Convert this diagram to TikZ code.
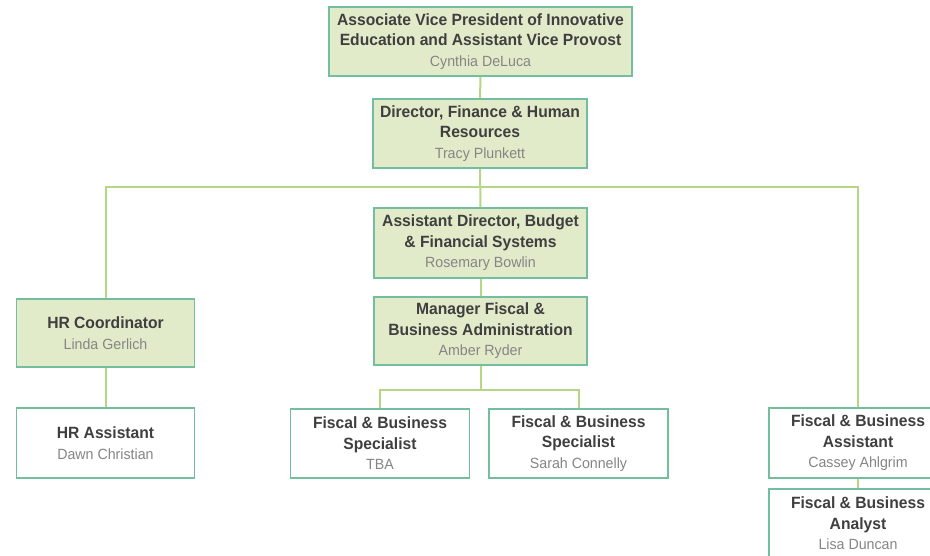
\documentclass[tikz,border=0pt]{standalone}
\usepackage{fontspec}
\setmainfont{Liberation Sans}[FakeStretch=0.96]
\definecolor{boxfill}{HTML}{E2EBC9}
\definecolor{boxline}{HTML}{72BE9E}
\definecolor{conn}{HTML}{B5D685}
\definecolor{titlecol}{HTML}{3F3F3F}
\definecolor{namecol}{HTML}{858585}
\newcommand{\ttl}[1]{{\fontsize{16.3}{20.5}\selectfont\bfseries\color{titlecol}#1}}
\newcommand{\nm}[1]{{\fontsize{14.8}{20.5}\selectfont\color{namecol}#1}}
\tikzset{
  orgbox/.style={draw=boxline, line width=1.8pt, fill=boxfill, minimum height=69pt, align=center, inner sep=0pt, font=\fontsize{16.3}{20.5}\selectfont},
  whitebox/.style={orgbox, fill=white},
  link/.style={draw=conn, line width=2pt}
}
\begin{document}
\begin{tikzpicture}[x=1pt,y=-1pt]
\useasboundingbox (0,0) rectangle (930,556);
\node[orgbox, minimum width=303pt] (avp) at (480.5,41.5) {\ttl{Associate Vice President of Innovative}\\\ttl{Education and Assistant Vice Provost}\\\nm{Cynthia DeLuca}};
\node[orgbox, minimum width=214pt] (dir) at (480,133.5) {\ttl{Director, Finance \& Human}\\\ttl{Resources}\\\nm{Tracy Plunkett}};
\node[orgbox, minimum width=213pt, minimum height=70pt] (ad) at (480.5,243) {\ttl{Assistant Director, Budget}\\\ttl{\& Financial Systems}\\\nm{Rosemary Bowlin}};
\node[orgbox, minimum width=213pt, minimum height=68pt] (mgr) at (480.5,331) {\ttl{Manager Fiscal \&}\\\ttl{Business Administration}\\\nm{Amber Ryder}};
\node[orgbox, minimum width=178pt, minimum height=68pt] (hrc) at (105.5,333) {\ttl{HR Coordinator}\\\nm{Linda Gerlich}};
\node[whitebox, minimum width=178pt, minimum height=70pt] (hra) at (105.5,443) {\ttl{HR Assistant}\\\nm{Dawn Christian}};
\node[whitebox, minimum width=179pt] (s1) at (380,443.5) {\ttl{Fiscal \& Business}\\\ttl{Specialist}\\\nm{TBA}};
\node[whitebox, minimum width=179pt] (s2) at (578.5,443.5) {\ttl{Fiscal \& Business}\\\ttl{Specialist}\\\nm{Sarah Connelly}};
\node[whitebox, minimum width=178pt, minimum height=70pt] (fba) at (858,443) {\ttl{Fiscal \& Business}\\\ttl{Assistant}\\\nm{Cassey Ahlgrim}};
\node[whitebox, minimum width=178pt] (fban) at (858,523.5) {\ttl{Fiscal \& Business}\\\ttl{Analyst}\\\nm{Lisa Duncan}};
\coordinate (bar) at (480.5,187);
\coordinate (sbar) at (480.5,390);
\draw[link] (avp.south) -- (dir.north);
\draw[link] (dir.south) -- (ad.north);
\draw[link] (ad.south) -- (mgr.north);
\draw[link] (hrc.north) |- (bar) -| (fba.north);
\draw[link] (hrc.south) -- (hra.north);
\draw[link] (mgr.south) -- (sbar);
\draw[link] (s1.north) |- (sbar) -| (s2.north);
\draw[link] (fba.south) -- (fban.north);
\end{tikzpicture}
\end{document}
